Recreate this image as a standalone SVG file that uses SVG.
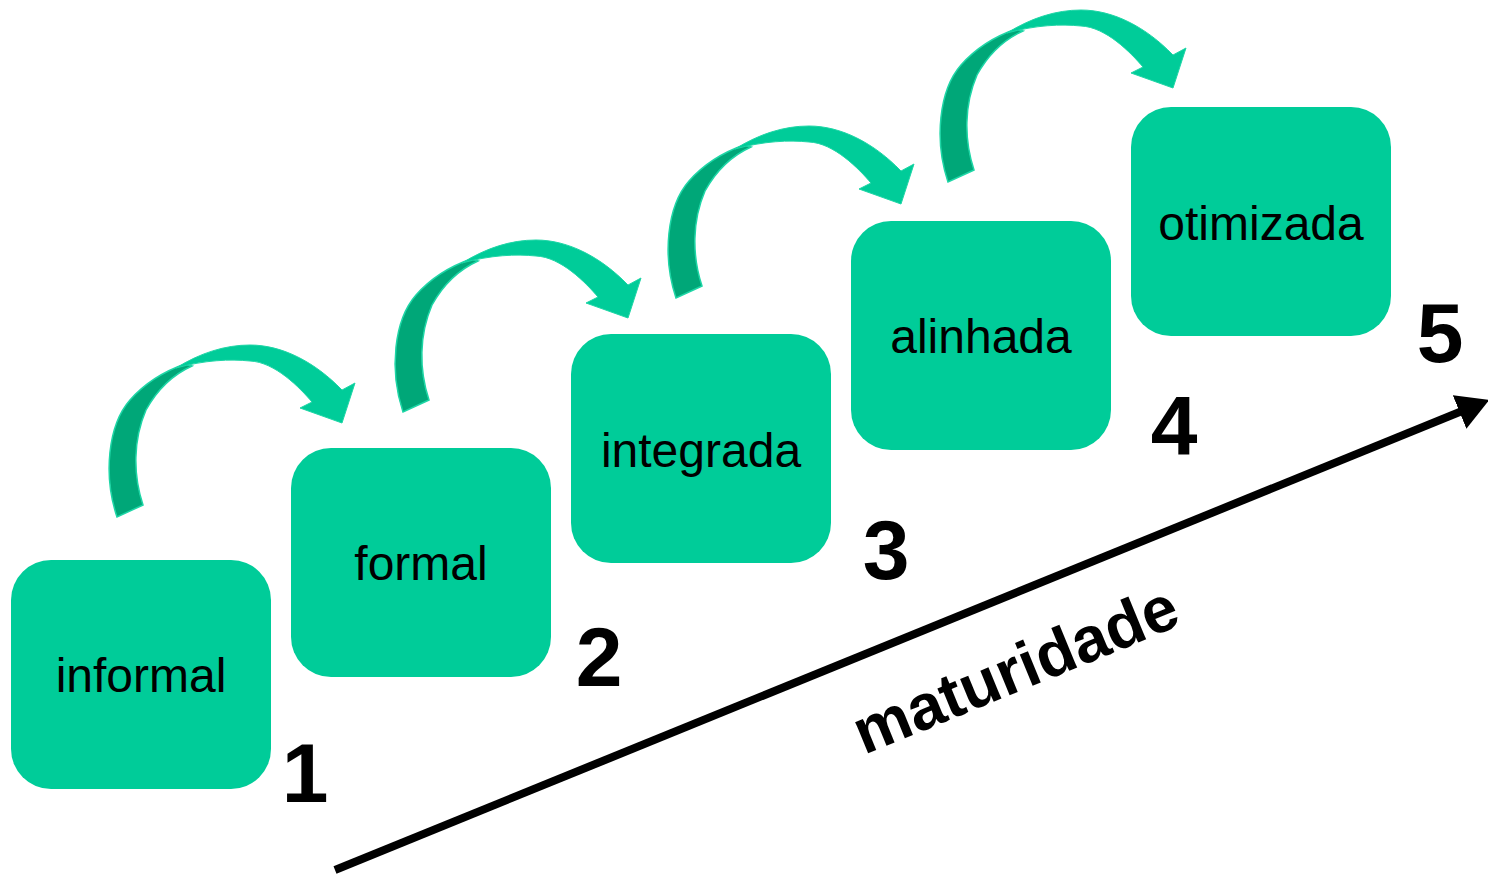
<svg xmlns="http://www.w3.org/2000/svg" xmlns:xlink="http://www.w3.org/1999/xlink" width="1488" height="874" viewBox="0 0 1488 874">
<style>
.box{fill:#00CC99;}
.lbl{font-family:"Liberation Sans",Arial,sans-serif;font-size:48px;fill:#000;text-anchor:middle;}
.num{font-family:"Liberation Sans",Arial,sans-serif;font-size:84px;font-weight:bold;fill:#000;text-anchor:middle;}
.dark{fill:#00A778;stroke:#1ED6A6;stroke-width:1.5;}
.light{fill:#00CC99;stroke:#1ED6A6;stroke-width:1;}
</style>
<defs>
<g id="curv">
<path class="dark" d="M117,517 C103,475 108,425 130,400 C145,383 165,371 185,364 L192,366 C172,375 157,390 146,410 C133,440 133,475 143,505 Z"/>
<path class="light" d="M176,368 C200,353 225,345 250,345 C282,345 315,362 342,390 L355,383 L342,423 L300,408 L312,402 C300,388 275,362 250,361 C230,359 205,360 176,368 Z"/>
</g>
<marker id="ah" markerWidth="4.5" markerHeight="4.5" refX="1" refY="2.25" orient="auto" markerUnits="strokeWidth">
<path d="M0,0 L4,2.25 L0,4.5 Z" fill="#000"/>
</marker>
</defs>
<g id="connectors">
<use xlink:href="#curv"/>
<use xlink:href="#curv" transform="translate(286,-105)"/>
<use xlink:href="#curv" transform="translate(559,-219)"/>
<use xlink:href="#curv" transform="translate(831,-335)"/>
<line x1="335" y1="870" x2="1467" y2="409" stroke="#000" stroke-width="8" marker-end="url(#ah)"/>
</g>
<g id="node1"><rect class="box" x="11" y="560" width="260" height="229" rx="40"/><text class="lbl" x="141" y="692">informal</text></g>
<g id="node2"><rect class="box" x="291" y="448" width="260" height="229" rx="40"/><text class="lbl" x="421" y="580">formal</text></g>
<g id="node3"><rect class="box" x="571" y="334" width="260" height="229" rx="40"/><text class="lbl" x="701" y="467">integrada</text></g>
<g id="node4"><rect class="box" x="851" y="221" width="260" height="229" rx="40"/><text class="lbl" x="981" y="353">alinhada</text></g>
<g id="node5"><rect class="box" x="1131" y="107" width="260" height="229" rx="40"/><text class="lbl" x="1261" y="240">otimizada</text></g>
<g id="numbers">
<text class="num" x="305" y="802">1</text>
<text class="num" x="599" y="686">2</text>
<text class="num" x="886" y="579">3</text>
<text class="num" x="1174" y="455">4</text>
<text class="num" x="1440" y="362">5</text>
</g>
<text x="0" y="0" transform="translate(864,755) rotate(-22.3)" style="font-family:'Liberation Sans',Arial,sans-serif;font-size:64px;font-weight:bold;fill:#000;">maturidade</text>
</svg>
